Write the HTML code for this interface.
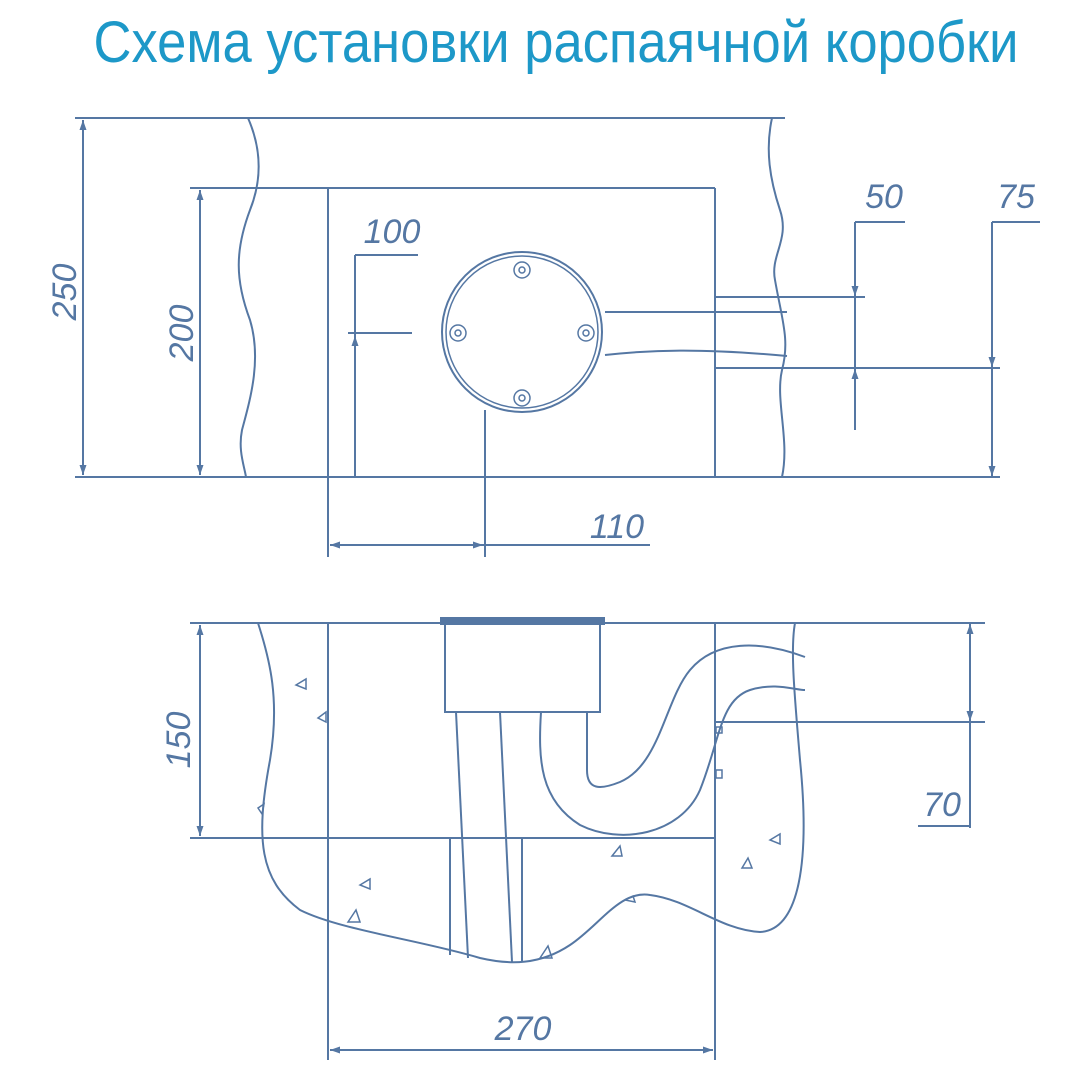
<!DOCTYPE html>
<html><head><meta charset="utf-8"><style>body{margin:0;background:#fff}svg{display:block}</style></head><body>
<svg width="1080" height="1080" viewBox="0 0 1080 1080" xmlns="http://www.w3.org/2000/svg">
<defs>
<marker id="a" viewBox="0 0 10 10" refX="10" refY="5" markerWidth="22" markerHeight="10" markerUnits="userSpaceOnUse" orient="auto-start-reverse"><path d="M0,1.5L10,5L0,8.5z" fill="#5577a3"/></marker>
</defs>
<text x="556" y="62" text-anchor="middle" font-family="Liberation Sans, sans-serif" font-size="58" fill="#1d98c8" textLength="925" lengthAdjust="spacingAndGlyphs">Схема установки распаячной коробки</text>
<g fill="none" stroke="#5577a3" stroke-width="2">
<line x1="75" y1="118" x2="785" y2="118"/>
<line x1="75" y1="477" x2="1000" y2="477"/>
<line x1="83" y1="120" x2="83" y2="475" marker-start="url(#a)" marker-end="url(#a)"/>
<line x1="190" y1="188" x2="715" y2="188"/>
<line x1="200" y1="190" x2="200" y2="475" marker-start="url(#a)" marker-end="url(#a)"/>
<line x1="328" y1="188" x2="328" y2="557"/>
<line x1="715" y1="188" x2="715" y2="477"/>
<path d="M248,118 C262,150 262,180 250,210 C235,250 235,280 250,320 C262,360 250,400 242,430 C238,450 244,465 246,477"/>
<path d="M772,118 C765,150 770,180 780,210 C790,240 770,255 775,280 C782,320 790,340 782,370 C775,400 790,440 782,477"/>
<line x1="355" y1="255" x2="418" y2="255"/>
<line x1="348" y1="333" x2="412" y2="333"/>
<line x1="355" y1="255" x2="355" y2="477"/>
<line x1="355" y1="475" x2="355" y2="336" marker-end="url(#a)"/>
<circle cx="522" cy="332" r="80"/>
<circle cx="522" cy="332" r="76" stroke-width="1.5"/>
<g stroke-width="1.5">
<circle cx="522" cy="270" r="8"/><circle cx="522" cy="270" r="3"/>
<circle cx="458" cy="333" r="8"/><circle cx="458" cy="333" r="3"/>
<circle cx="586" cy="333" r="8"/><circle cx="586" cy="333" r="3"/>
<circle cx="522" cy="398" r="8"/><circle cx="522" cy="398" r="3"/>
</g>
<line x1="485" y1="410" x2="485" y2="557"/>
<line x1="605" y1="312" x2="787" y2="312"/>
<path d="M605,355 C650,350 700,348 787,356"/>
<line x1="715" y1="297" x2="865" y2="297"/>
<line x1="715" y1="368" x2="1000" y2="368"/>
<line x1="855" y1="222" x2="905" y2="222"/>
<line x1="855" y1="222" x2="855" y2="430"/>
<line x1="855" y1="250" x2="855" y2="296" marker-end="url(#a)"/>
<line x1="855" y1="410" x2="855" y2="369" marker-end="url(#a)"/>
<line x1="992" y1="222" x2="1040" y2="222"/>
<line x1="992" y1="222" x2="992" y2="477"/>
<line x1="992" y1="330" x2="992" y2="367" marker-end="url(#a)"/>
<line x1="992" y1="400" x2="992" y2="476" marker-end="url(#a)"/>
<line x1="330" y1="545" x2="483" y2="545" marker-start="url(#a)" marker-end="url(#a)"/>
<line x1="483" y1="545" x2="650" y2="545"/>
<line x1="190" y1="623" x2="985" y2="623"/>
<line x1="190" y1="838" x2="715" y2="838"/>
<line x1="200" y1="625" x2="200" y2="836" marker-start="url(#a)" marker-end="url(#a)"/>
<line x1="328" y1="623" x2="328" y2="1060"/>
<line x1="715" y1="623" x2="715" y2="1060"/>
<line x1="330" y1="1050" x2="713" y2="1050" marker-start="url(#a)" marker-end="url(#a)"/>
<rect x="445" y="623" width="155" height="89"/>
<line x1="440" y1="621" x2="605" y2="621" stroke-width="8"/>
<path d="M456,712 L468,958"/>
<path d="M500,712 L512,962"/>
<line x1="450" y1="838" x2="450" y2="955"/>
<line x1="522" y1="838" x2="522" y2="962"/>
<path d="M541,712 C538,760 540,800 580,825 C620,845 680,835 700,790 C720,740 720,700 750,690 C775,682 795,690 805,690"/>
<path d="M587,712 L587,770 C587,790 600,790 620,782 C660,765 665,700 690,670 C715,640 760,640 805,657"/>
<path d="M258,623 C270,660 280,700 270,760 C255,840 260,880 300,910 C340,930 420,940 480,958 C510,965 540,965 570,945 C600,925 620,890 650,895 C690,900 720,930 760,932 C800,930 810,860 800,760 C795,700 790,650 795,623"/>
<line x1="715" y1="722" x2="985" y2="722"/>
<line x1="970" y1="623" x2="970" y2="828"/>
<line x1="970" y1="700" x2="970" y2="624" marker-end="url(#a)"/>
<line x1="970" y1="680" x2="970" y2="721" marker-end="url(#a)"/>
<line x1="918" y1="826" x2="970" y2="826"/>
<g stroke-width="1.5">
<path d="M296,685 l10,-6 l0,10z"/><path d="M318,718 l8,-6 l0,10z"/><path d="M360,885 l10,-6 l0,10z"/>
<path d="M348,922 l8,-12 l4,12z"/><path d="M540,958 l8,-12 l4,12z"/><path d="M612,856 l8,-10 l2,10z"/>
<path d="M742,868 l6,-10 l4,10z"/><path d="M770,840 l10,-6 l0,10z"/><path d="M625,900 l8,-4 l2,6z"/>
<path d="M716,770 l6,0 l0,8 l-6,0z"/><path d="M716,727 l6,0 l0,6 l-6,0z"/><path d="M258,808 l6,-4 l-2,10z"/>
</g>
</g>
<g font-family="Liberation Sans, sans-serif" font-style="italic" font-size="34" fill="#5577a3">
<text transform="translate(76,292) rotate(-90)" text-anchor="middle">250</text>
<text transform="translate(193,333) rotate(-90)" text-anchor="middle">200</text>
<text x="392" y="243" text-anchor="middle">100</text>
<text x="884" y="208" text-anchor="middle">50</text>
<text x="1016" y="208" text-anchor="middle">75</text>
<text x="617" y="538" text-anchor="middle">110</text>
<text transform="translate(190,740) rotate(-90)" text-anchor="middle">150</text>
<text x="942" y="816" text-anchor="middle">70</text>
<text x="523" y="1040" text-anchor="middle">270</text>
</g>
</svg>
</body></html>
